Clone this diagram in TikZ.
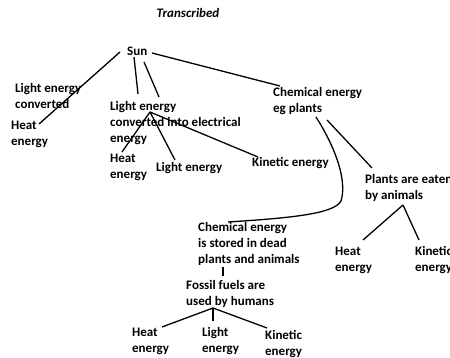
\documentclass[tikz,border=0pt]{standalone}
\usepackage{fontspec}
\setmainfont{Carlito}
\usetikzlibrary{calc}
\newcommand\mlines[1]{\begin{tabular}[t]{@{}l@{}}#1\end{tabular}}
\begin{document}
\begin{tikzpicture}[x=1pt,y=-1pt,
  lbl/.style={anchor=base west,inner sep=0pt,font=\fontsize{13}{16}\selectfont\bfseries},
  conn/.style={line width=1.3pt,black}]
\useasboundingbox (0,0) rectangle (450,358);
\fill[white] (0,0) rectangle (450,358);
\clip (0,0) rectangle (450,358);
\node[anchor=base,inner sep=0pt,font=\fontsize{13}{16}\selectfont\bfseries\itshape] (title) at (188,18) {Transcribed};
\node[lbl] (sun) at (127,56) {Sun};
\node[lbl] (lec) at (15,93) {\mlines{Light energy\\converted}};
\node[lbl] (he1) at (11,130) {\mlines{Heat\\energy}};
\node[lbl] (lece) at (110,111) {\mlines{Light energy\\converted into electrical\\energy}};
\node[lbl] (he2) at (110,163) {\mlines{Heat\\energy}};
\node[lbl] (le2) at (156,172) {Light energy};
\node[lbl] (ke2) at (252,167) {Kinetic energy};
\node[lbl] (chem) at (273,97) {\mlines{Chemical energy\\eg plants}};
\node[lbl] (pea) at (365,184) {\mlines{Plants are eaten\\by animals}};
\node[lbl] (he3) at (335,256) {\mlines{Heat\\energy}};
\node[lbl] (ke3) at (415,256) {\mlines{Kinetic\\energy}};
\node[lbl] (stored) at (198,232) {\mlines{Chemical energy\\is stored in dead\\plants and animals}};
\node[lbl] (fossil) at (186,290) {\mlines{Fossil fuels are\\used by humans}};
\node[lbl] (he4) at (132,336) {\mlines{Heat\\energy}};
\node[lbl] (le4) at (202,336) {\mlines{Light\\energy}};
\node[lbl] (ke4) at (265,339) {\mlines{Kinetic\\energy}};
% Sun connectors
\draw[conn] ($(sun.base west)+(-7,-4)$) -- ($(he1.base west)+(28,-6)$);
\draw[conn] ($(sun.base west)+(7,1)$) -- ($(lece.base west)+(28,-17)$);
\draw[conn] ($(sun.base west)+(17,6)$) -- ($(lece.base west)+(49,-14)$);
\draw[conn] ($(sun.base west)+(25,-3)$) -- ($(chem.base west)+(7,-11)$);
% light energy converted into electrical
\coordinate (hubA) at ($(lece.base west)+(40,1)$);
\draw[conn] (hubA) -- ($(he2.base west)+(12,-11)$);
\draw[conn] (hubA) -- ($(le2.base west)+(19,-12)$);
\draw[conn] (hubA) -- ($(ke2.base west)+(6,-10)$);
% chemical energy
\draw[conn] ($(chem.base west)+(43,20)$) .. controls (337,150) and (347,182) .. (341,201)
   .. controls (334,214) and (290,218) .. ($(stored.base west)+(30,-10)$);
\draw[conn] ($(chem.base west)+(54,23)$) -- ($(pea.base west)+(7,-16)$);
\coordinate (hubB) at ($(pea.base west)+(38,21)$);
\draw[conn] (hubB) -- ($(he3.base west)+(28,-16)$);
\draw[conn] (hubB) -- ($(ke3.base west)+(4,-16)$);
% stored -> fossil
\draw[conn] ($(stored.base west)+(25,35)$) -- ($(fossil.base west)+(37,-14)$);
\coordinate (hubC) at ($(fossil.base west)+(27,18)$);
\draw[conn] (hubC) -- ($(he4.base west)+(30,-9)$);
\draw[conn] (hubC) -- ($(le4.base west)+(11,-15)$);
\draw[conn] (hubC) -- ($(ke4.base west)+(2,-11)$);
\end{tikzpicture}
\end{document}
